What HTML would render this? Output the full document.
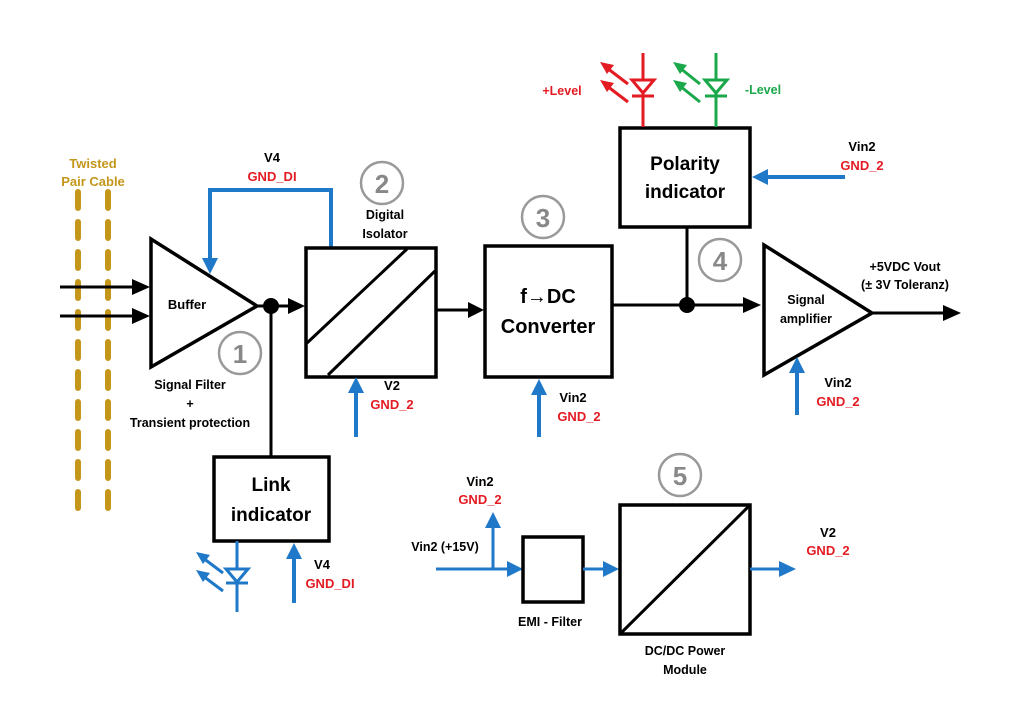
<!DOCTYPE html>
<html><head><meta charset="utf-8"><style>
html,body{margin:0;padding:0;background:#fff;}
svg{display:block;font-family:"Liberation Sans",sans-serif;font-weight:bold;}
</style></head><body>
<svg width="1024" height="715" viewBox="0 0 1024 715" xmlns="http://www.w3.org/2000/svg">
<defs>
<marker id="ak" markerWidth="10" markerHeight="10" refX="9" refY="5" orient="auto" markerUnits="userSpaceOnUse"><path d="M0,0L10,5L0,10z" fill="#000"/></marker>
</defs>
<!-- twisted pair -->
<g stroke="#c4961a" stroke-width="6" stroke-linecap="round" stroke-dasharray="16 14">
<line x1="78" y1="192" x2="78" y2="520"/><line x1="108" y1="192" x2="108" y2="520"/>
</g>
<text x="93" y="168" font-size="13" fill="#c4961a" text-anchor="middle">Twisted</text>
<text x="93" y="186" font-size="13" fill="#c4961a" text-anchor="middle">Pair Cable</text>
<!-- inputs -->
<g stroke="#000" stroke-width="3">
<line x1="60" y1="287" x2="134" y2="287"/><line x1="60" y1="316" x2="134" y2="316"/>
</g>
<path d="M132,279L150,287L132,295z M132,308L150,316L132,324z" fill="#000"/>
<!-- buffer -->
<polygon points="151,239 151,367 257,306" fill="#fff" stroke="#000" stroke-width="3.5"/>
<text x="187" y="309" font-size="13" text-anchor="middle">Buffer</text>
<circle cx="271" cy="306" r="8" fill="#000"/>
<line x1="257" y1="306" x2="290" y2="306" stroke="#000" stroke-width="3"/>
<path d="M288,298L305,306L288,314z" fill="#000"/>
<line x1="271" y1="306" x2="271" y2="456" stroke="#000" stroke-width="3"/>
<!-- blue loop -->
<polyline points="331,247 331,190 210,190 210,262" fill="none" stroke="#1f78c8" stroke-width="4"/>
<path d="M202,258L210,274L218,258z" fill="#1f78c8"/>
<text x="272" y="162" font-size="13" text-anchor="middle">V4</text>
<text x="272" y="181" font-size="13" fill="#e31b23" text-anchor="middle">GND_DI</text>
<!-- digital isolator -->
<rect x="306" y="248" width="130" height="129" fill="#fff" stroke="#000" stroke-width="3.5"/>
<line x1="307" y1="343" x2="407" y2="249" stroke="#000" stroke-width="3"/>
<line x1="328" y1="375" x2="435" y2="271" stroke="#000" stroke-width="3"/>
<circle cx="382" cy="183" r="21" fill="none" stroke="#999" stroke-width="2.5"/>
<text x="382" y="193" font-size="26" fill="#888" text-anchor="middle">2</text>
<text x="385" y="219" font-size="12.5" text-anchor="middle">Digital</text>
<text x="385" y="238" font-size="12.5" text-anchor="middle">Isolator</text>
<circle cx="240" cy="353" r="21" fill="none" stroke="#999" stroke-width="2.5"/>
<text x="240" y="363" font-size="26" fill="#888" text-anchor="middle">1</text>
<text x="190" y="389" font-size="12.5" text-anchor="middle">Signal Filter</text>
<text x="190" y="408" font-size="12.5" text-anchor="middle">+</text>
<text x="190" y="427" font-size="12.5" text-anchor="middle">Transient protection</text>
<!-- V2 arrow -->
<line x1="356" y1="437" x2="356" y2="390" stroke="#1f78c8" stroke-width="4"/>
<path d="M348,393L356,377L364,393z" fill="#1f78c8"/>
<text x="392" y="390" font-size="13" text-anchor="middle">V2</text>
<text x="392" y="409" font-size="13" fill="#e31b23" text-anchor="middle">GND_2</text>
<!-- link indicator -->
<rect x="214" y="457" width="115" height="84" fill="#fff" stroke="#000" stroke-width="3.5"/>
<text x="271" y="491" font-size="19" text-anchor="middle">Link</text>
<text x="271" y="521" font-size="19" text-anchor="middle">indicator</text>
<line x1="237" y1="541" x2="237" y2="612" stroke="#1f78c8" stroke-width="3"/>
<path d="M226,569L248,569L237,582z" fill="#fff" stroke="#1f78c8" stroke-width="3"/>
<line x1="226" y1="583" x2="248" y2="583" stroke="#1f78c8" stroke-width="3"/>
<g stroke="#1f78c8" stroke-width="3"><line x1="223" y1="573" x2="203" y2="558"/><line x1="223" y1="591" x2="203" y2="576"/></g>
<path d="M196,552L210,555L203,564z M196,570L210,573L203,582z" fill="#1f78c8"/>
<line x1="294" y1="603" x2="294" y2="556" stroke="#1f78c8" stroke-width="4"/>
<path d="M286,559L294,543L302,559z" fill="#1f78c8"/>
<text x="322" y="569" font-size="13" text-anchor="middle">V4</text>
<text x="330" y="588" font-size="13" fill="#e31b23" text-anchor="middle">GND_DI</text>
<!-- iso -> fdc -->
<line x1="436" y1="310" x2="470" y2="310" stroke="#000" stroke-width="3"/>
<path d="M468,302L484,310L468,318z" fill="#000"/>
<!-- f->DC -->
<rect x="485" y="246" width="127" height="131" fill="#fff" stroke="#000" stroke-width="3.5"/>
<text x="548" y="303" font-size="20" text-anchor="middle">f→DC</text>
<text x="548" y="333" font-size="20" text-anchor="middle">Converter</text>
<circle cx="543" cy="217" r="21" fill="none" stroke="#999" stroke-width="2.5"/>
<text x="543" y="227" font-size="26" fill="#888" text-anchor="middle">3</text>
<line x1="539" y1="437" x2="539" y2="392" stroke="#1f78c8" stroke-width="4"/>
<path d="M531,395L539,379L547,395z" fill="#1f78c8"/>
<text x="573" y="402" font-size="13" text-anchor="middle">Vin2</text>
<text x="579" y="421" font-size="13" fill="#e31b23" text-anchor="middle">GND_2</text>
<!-- main line -->
<line x1="612" y1="305" x2="745" y2="305" stroke="#000" stroke-width="3"/>
<path d="M743,297L761,305L743,313z" fill="#000"/>
<circle cx="687" cy="305" r="8" fill="#000"/>
<line x1="687" y1="227" x2="687" y2="305" stroke="#000" stroke-width="3"/>
<circle cx="720" cy="260" r="21" fill="none" stroke="#999" stroke-width="2.5"/>
<text x="720" y="270" font-size="26" fill="#888" text-anchor="middle">4</text>
<!-- polarity -->
<rect x="620" y="128" width="130" height="99" fill="#fff" stroke="#000" stroke-width="3.5"/>
<text x="685" y="170" font-size="19" text-anchor="middle">Polarity</text>
<text x="685" y="198" font-size="19" text-anchor="middle">indicator</text>
<line x1="845" y1="177" x2="765" y2="177" stroke="#1f78c8" stroke-width="4"/>
<path d="M768,169L752,177L768,185z" fill="#1f78c8"/>
<text x="862" y="151" font-size="13" text-anchor="middle">Vin2</text>
<text x="862" y="170" font-size="13" fill="#e31b23" text-anchor="middle">GND_2</text>
<!-- red LED -->
<line x1="643" y1="53" x2="643" y2="127" stroke="#e31b23" stroke-width="3"/>
<path d="M632,80L654,80L643,93z" fill="#fff" stroke="#e31b23" stroke-width="3"/>
<line x1="632" y1="96" x2="654" y2="96" stroke="#e31b23" stroke-width="3"/>
<g stroke="#e31b23" stroke-width="3"><line x1="628" y1="84" x2="607" y2="68"/><line x1="628" y1="102" x2="607" y2="86"/></g>
<path d="M600,62L614,65L607,74z M600,80L614,83L607,92z" fill="#e31b23"/>
<text x="562" y="95" font-size="12.5" fill="#e31b23" text-anchor="middle">+Level</text>
<!-- green LED -->
<line x1="716" y1="53" x2="716" y2="127" stroke="#1aa84a" stroke-width="3"/>
<path d="M705,80L727,80L716,93z" fill="#fff" stroke="#1aa84a" stroke-width="3"/>
<line x1="705" y1="96" x2="727" y2="96" stroke="#1aa84a" stroke-width="3"/>
<g stroke="#1aa84a" stroke-width="3"><line x1="700" y1="84" x2="680" y2="68"/><line x1="700" y1="102" x2="680" y2="86"/></g>
<path d="M673,62L687,65L680,74z M673,80L687,83L680,92z" fill="#1aa84a"/>
<text x="763" y="94" font-size="12.5" fill="#1aa84a" text-anchor="middle">-Level</text>
<!-- signal amp -->
<polygon points="764,245 764,375 872,313" fill="#fff" stroke="#000" stroke-width="3.5"/>
<text x="806" y="304" font-size="12.5" text-anchor="middle">Signal</text>
<text x="806" y="323" font-size="12.5" text-anchor="middle">amplifier</text>
<line x1="872" y1="313" x2="945" y2="313" stroke="#000" stroke-width="3"/>
<path d="M943,305L961,313L943,321z" fill="#000"/>
<text x="905" y="271" font-size="12.5" text-anchor="middle">+5VDC Vout</text>
<text x="905" y="289" font-size="12.5" text-anchor="middle">(± 3V Toleranz)</text>
<line x1="797" y1="415" x2="797" y2="370" stroke="#1f78c8" stroke-width="4"/>
<path d="M789,373L797,357L805,373z" fill="#1f78c8"/>
<text x="838" y="387" font-size="13" text-anchor="middle">Vin2</text>
<text x="838" y="406" font-size="13" fill="#e31b23" text-anchor="middle">GND_2</text>
<!-- power -->
<text x="445" y="551" font-size="12.5" text-anchor="middle">Vin2 (+15V)</text>
<line x1="436" y1="569" x2="510" y2="569" stroke="#1f78c8" stroke-width="3"/>
<path d="M507,561L523,569L507,577z" fill="#1f78c8"/>
<line x1="493" y1="569" x2="493" y2="526" stroke="#1f78c8" stroke-width="3"/>
<path d="M485,528L493,512L501,528z" fill="#1f78c8"/>
<text x="480" y="486" font-size="13" text-anchor="middle">Vin2</text>
<text x="480" y="504" font-size="13" fill="#e31b23" text-anchor="middle">GND_2</text>
<rect x="523" y="537" width="60" height="65" fill="#fff" stroke="#000" stroke-width="3.5"/>
<text x="550" y="626" font-size="12.5" text-anchor="middle">EMI - Filter</text>
<line x1="583" y1="569" x2="606" y2="569" stroke="#1f78c8" stroke-width="3"/>
<path d="M603,561L619,569L603,577z" fill="#1f78c8"/>
<rect x="620" y="505" width="130" height="129" fill="#fff" stroke="#000" stroke-width="3.5"/>
<line x1="621" y1="633" x2="749" y2="506" stroke="#000" stroke-width="3"/>
<circle cx="680" cy="475" r="21" fill="none" stroke="#999" stroke-width="2.5"/>
<text x="680" y="485" font-size="26" fill="#888" text-anchor="middle">5</text>
<text x="685" y="655" font-size="12.5" text-anchor="middle">DC/DC Power</text>
<text x="685" y="674" font-size="12.5" text-anchor="middle">Module</text>
<line x1="750" y1="569" x2="782" y2="569" stroke="#1f78c8" stroke-width="3"/>
<path d="M779,561L796,569L779,577z" fill="#1f78c8"/>
<text x="828" y="537" font-size="13" text-anchor="middle">V2</text>
<text x="828" y="555" font-size="13" fill="#e31b23" text-anchor="middle">GND_2</text>
</svg>
</body></html>
